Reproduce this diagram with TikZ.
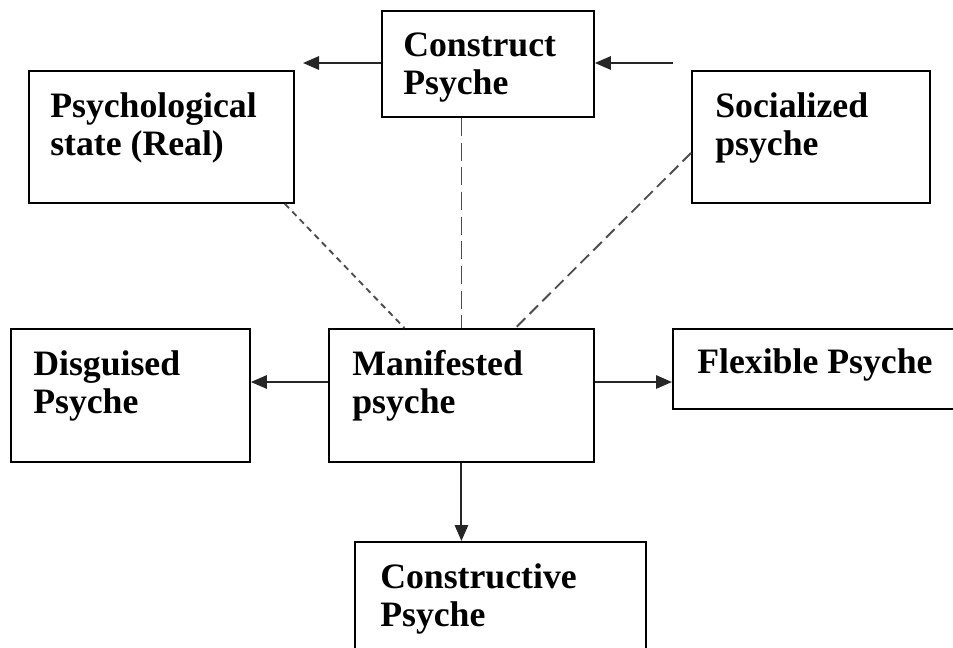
\documentclass[tikz,border=0pt]{standalone}
\usepackage{fontspec}
\setmainfont{Liberation Serif}
\usetikzlibrary{arrows.meta}

\tikzset{
  box/.style={draw, line width=1.4pt, anchor=north west, inner sep=0pt},
  lbl/.style={anchor=north west, inner sep=0pt, align=left, font=\fontsize{26.8}{28.5}\selectfont\bfseries},
  arr/.style={draw=black!85, line width=1.5pt, -{Triangle[length=12pt,width=10pt]}},
  link/.style={draw=black!70, line width=1.4pt}
}

\begin{document}
\begin{tikzpicture}[x=0.75pt,y=0.75pt,yscale=-1,xscale=1]
\clip (0,0) rectangle (953,647);
\useasboundingbox (0,0) rectangle (953,647);

%Boxes
\node [box, minimum width=159pt, minimum height=79.5pt] (cons) at (381,10) {};
\node [box, minimum width=198.75pt, minimum height=99pt] (real) at (28,70) {};
\node [box, minimum width=178.5pt, minimum height=99pt] (soc) at (691,70) {};
\node [box, minimum width=179.25pt, minimum height=99.75pt] (disg) at (10,328) {};
\node [box, minimum width=198.75pt, minimum height=99.75pt] (mani) at (328,328) {};
\node [box, minimum width=216pt, minimum height=60pt] (flex) at (672,328) {};
\node [box, minimum width=218.25pt, minimum height=82.5pt] (ctive) at (354,541) {};

% Text Nodes
\node [lbl] (consT) at ([shift={(22,23)}]cons.north west) {Construct\\Psyche};
\node [lbl] (realT) at ([shift={(22,22)}]real.north west) {Psychological\\state (Real)};
\node [lbl] (socT) at ([shift={(24,22)}]soc.north west) {Socialized\\psyche};
\node [lbl] (disgT) at ([shift={(23,22)}]disg.north west) {Disguised\\Psyche};
\node [lbl] (maniT) at ([shift={(24,22)}]mani.north west) {Manifested\\psyche};
\node [lbl] (flexT) at ([shift={(25,20)}]flex.north west) {Flexible Psyche};
\node [lbl] (ctiveT) at ([shift={(26,22)}]ctive.north west) {Constructive\\Psyche};

%Arrows
\coordinate (consL) at (303,63);
\coordinate (socA) at (673,63);
\draw [arr] (cons.west |- consL) -- (consL);
\draw [arr] (socA) -- (cons.east |- socA);
\draw [arr] (mani.west |- 0,382) -- (disg.east |- 0,382);
\draw [arr] (mani.east |- 0,382) -- (flex.west |- 0,382);
\draw [arr] (mani.south) -- (ctive.north -| mani.south);

%Dashed links
\draw [link, dash pattern=on 4.5pt off 3.5pt] ([shift={(-10,0)}]real.south east) -- ([shift={(-57,0)}]mani.north);
\draw [link, dash pattern=on 13.5pt off 5pt] (cons.south -| mani.north) -- (mani.north);
\draw [link, dash pattern=on 9pt off 4.5pt] ([shift={(0,83)}]soc.north west) -- ([shift={(54,0)}]mani.north);

\end{tikzpicture}
\end{document}
